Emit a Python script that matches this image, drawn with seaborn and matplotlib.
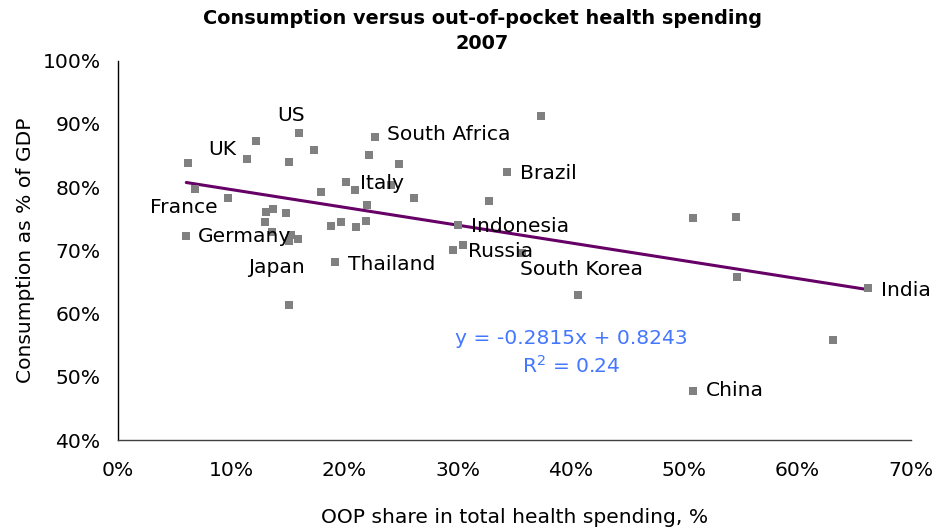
import matplotlib
matplotlib.use("Agg")
import pandas as pd
import matplotlib.pyplot as plt
from matplotlib.ticker import PercentFormatter
import seaborn as sns

# OOP share in total health spending (%) and consumption (% of GDP), 2007
oop_share = [6.21, 6.78, 9.74, 6.03, 11.40, 12.19, 15.99, 17.29, 15.08, 17.93,
             13.07, 13.72, 14.84, 12.96, 13.63, 15.26, 15.87, 15.11, 15.11, 19.17,
             18.82, 19.70, 21.05, 21.93, 20.17, 20.96, 22.02, 24.09, 22.15, 22.68,
             24.80, 26.12, 37.39, 34.34, 32.75, 30.04, 29.62, 30.45, 35.66, 40.61,
             50.77, 54.53, 54.65, 66.23, 63.16, 50.77]
consumption = [83.78, 79.63, 78.26, 72.26, 84.42, 87.37, 88.58, 85.95, 84.05, 79.27,
               76.05, 76.47, 75.84, 74.42, 72.95, 72.37, 71.85, 71.47, 61.32, 68.10,
               73.90, 74.42, 73.63, 74.63, 80.89, 79.47, 77.21, 80.37, 85.05, 87.95,
               83.63, 78.32, 91.21, 82.43, 77.85, 73.99, 70.05, 70.90, 69.64, 62.89,
               75.10, 75.21, 65.85, 64.11, 55.74, 47.78]
country = ["", "France", "", "Germany", "UK", "", "US", "", "", "",
           "", "", "", "", "", "", "", "Japan", "", "Thailand",
           "", "", "", "", "Italy", "", "", "", "", "South Africa",
           "", "", "", "Brazil", "", "Indonesia", "", "Russia", "South Korea", "",
           "", "", "", "India", "", "China"]

# linear trend as given on the chart
slope = -0.2815
intercept = 0.8243
r_squared = 0.24

df = pd.DataFrame({"oop": [v / 100 for v in oop_share],
                   "cons": [v / 100 for v in consumption],
                   "country": country})

# label offsets from their point, in pixels (dx, dy)
label_offset = {
    "US": (-22, 17), "UK": (-39, 10), "South Africa": (12, 2), "Italy": (14, -2),
    "Brazil": (13, -2), "France": (-45, -18), "Indonesia": (13, -1),
    "Germany": (12, 0), "Russia": (5, -7), "Thailand": (13, -2),
    "Japan": (-41, -26), "South Korea": (-2, -17), "India": (13, -3),
    "China": (13, 0),
}

sns.set_style("white")
plt.rcParams["font.family"] = ["DejaVu Sans"]
plt.rcParams["mathtext.default"] = "regular"
plt.rcParams["text.color"] = "black"
plt.rcParams["axes.labelcolor"] = "black"
plt.rcParams["xtick.color"] = "black"
plt.rcParams["ytick.color"] = "black"

fs = 14.6

fig = plt.figure(figsize=(9.49, 5.29), dpi=100)
ax = fig.add_axes([118 / 949, 1 - 440 / 529, 792.7 / 949, 379.3 / 529])

sns.scatterplot(data=df, x="oop", y="cons", ax=ax, marker="s", s=26,
                color="#808080", linewidth=0, zorder=3)

trend = pd.DataFrame({"oop": [df["oop"].min(), df["oop"].max()]})
trend["cons"] = slope * trend["oop"] + intercept
sns.lineplot(data=trend, x="oop", y="cons", ax=ax, color="#660066",
             linewidth=2.2, zorder=2)

for _, row in df[df["country"] != ""].iterrows():
    dx, dy = label_offset[row["country"]]
    ax.annotate(row["country"], (row["oop"], row["cons"]), xytext=(dx, dy),
                textcoords="offset pixels", ha="left", va="center",
                fontsize=fs, color="black", zorder=4)

ax.text(0.400, 0.561, f"y = {slope:.4f}x + {intercept:.4f}", ha="center",
        va="center", fontsize=fs, color="#4477ff")
ax.text(0.400, 0.517, f"R$^2$ = {r_squared:.2f}", ha="center", va="center",
        fontsize=fs, color="#4477ff")

ax.set_xlim(0, 0.70)
ax.set_ylim(0.40, 1.00)
ax.set_xticks([i / 10 for i in range(0, 8)])
ax.set_yticks([i / 10 for i in range(4, 11)])
ax.xaxis.set_major_formatter(PercentFormatter(xmax=1, decimals=0))
ax.yaxis.set_major_formatter(PercentFormatter(xmax=1, decimals=0))

for side in ["top", "right"]:
    ax.spines[side].set_visible(False)
ax.spines["left"].set_color("black")
ax.spines["left"].set_linewidth(1)
ax.spines["bottom"].set_color("#404040")
ax.spines["bottom"].set_linewidth(1)
ax.tick_params(axis="x", direction="inout", length=6, width=1, color="#404040",
               pad=12, labelsize=fs)
ax.tick_params(axis="y", direction="out", length=3.6, width=1, color="black",
               pad=9, labelsize=fs)

ax.set_xlabel("OOP share in total health spending, %", fontsize=fs)
ax.set_ylabel("Consumption as % of GDP", fontsize=fs)
ax.xaxis.set_label_coords(0.5, -0.178)
ax.yaxis.set_label_coords(-0.105, 0.5)

fig.text(0.508, 1 - 9 / 529, "Consumption versus out-of-pocket health spending\n2007",
         ha="center", va="top", fontsize=13.9, fontweight="bold", linespacing=1.38,
         family=["Liberation Sans Narrow", "DejaVu Sans"])

fig.savefig("out.png", dpi=100)
